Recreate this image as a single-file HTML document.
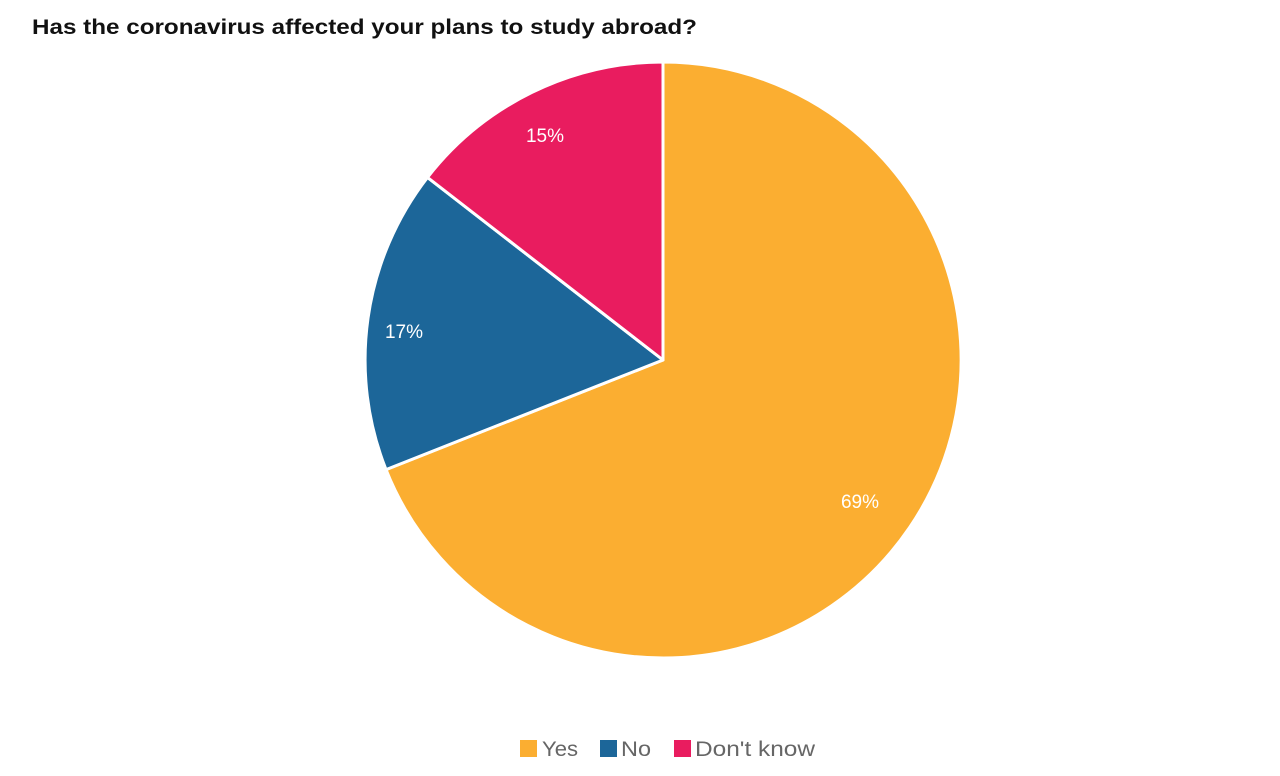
<!DOCTYPE html>
<html><head><meta charset="utf-8"><style>
html,body{margin:0;padding:0;background:#fff;width:1280px;height:776px;overflow:hidden}
</style></head><body>
<svg width="1280" height="776" xmlns="http://www.w3.org/2000/svg" font-family="Liberation Sans, sans-serif">
<text x="32" y="34" font-size="21" font-weight="bold" fill="#111" textLength="665" lengthAdjust="spacingAndGlyphs">Has the coronavirus affected your plans to study abroad?</text>
<g stroke="#fff" stroke-width="3" stroke-linejoin="round">
<path d="M663,360 L663,62 A298,298 0 1,1 386,469.6 Z" fill="#fbae31"/>
<path d="M663,360 L386,469.6 A298,298 0 0,1 427.5,177.4 Z" fill="#1c6699"/>
<path d="M663,360 L427.5,177.4 A298,298 0 0,1 663,62 Z" fill="#e91c5f"/>
</g>
<g fill="#fff" font-size="19" text-anchor="middle">
<text x="860" y="508">69%</text>
<text x="404" y="338">17%</text>
<text x="545" y="142">15%</text>
</g>
<g font-size="21" fill="#666">
<rect x="520" y="740" width="17" height="17" fill="#fbae31"/><text x="542" y="756" textLength="36" lengthAdjust="spacingAndGlyphs">Yes</text>
<rect x="600" y="740" width="17" height="17" fill="#1c6699"/><text x="621" y="756" textLength="30" lengthAdjust="spacingAndGlyphs">No</text>
<rect x="674" y="740" width="17" height="17" fill="#e91c5f"/><text x="695" y="756" textLength="120" lengthAdjust="spacingAndGlyphs">Don't know</text>
</g>
</svg>
</body></html>
